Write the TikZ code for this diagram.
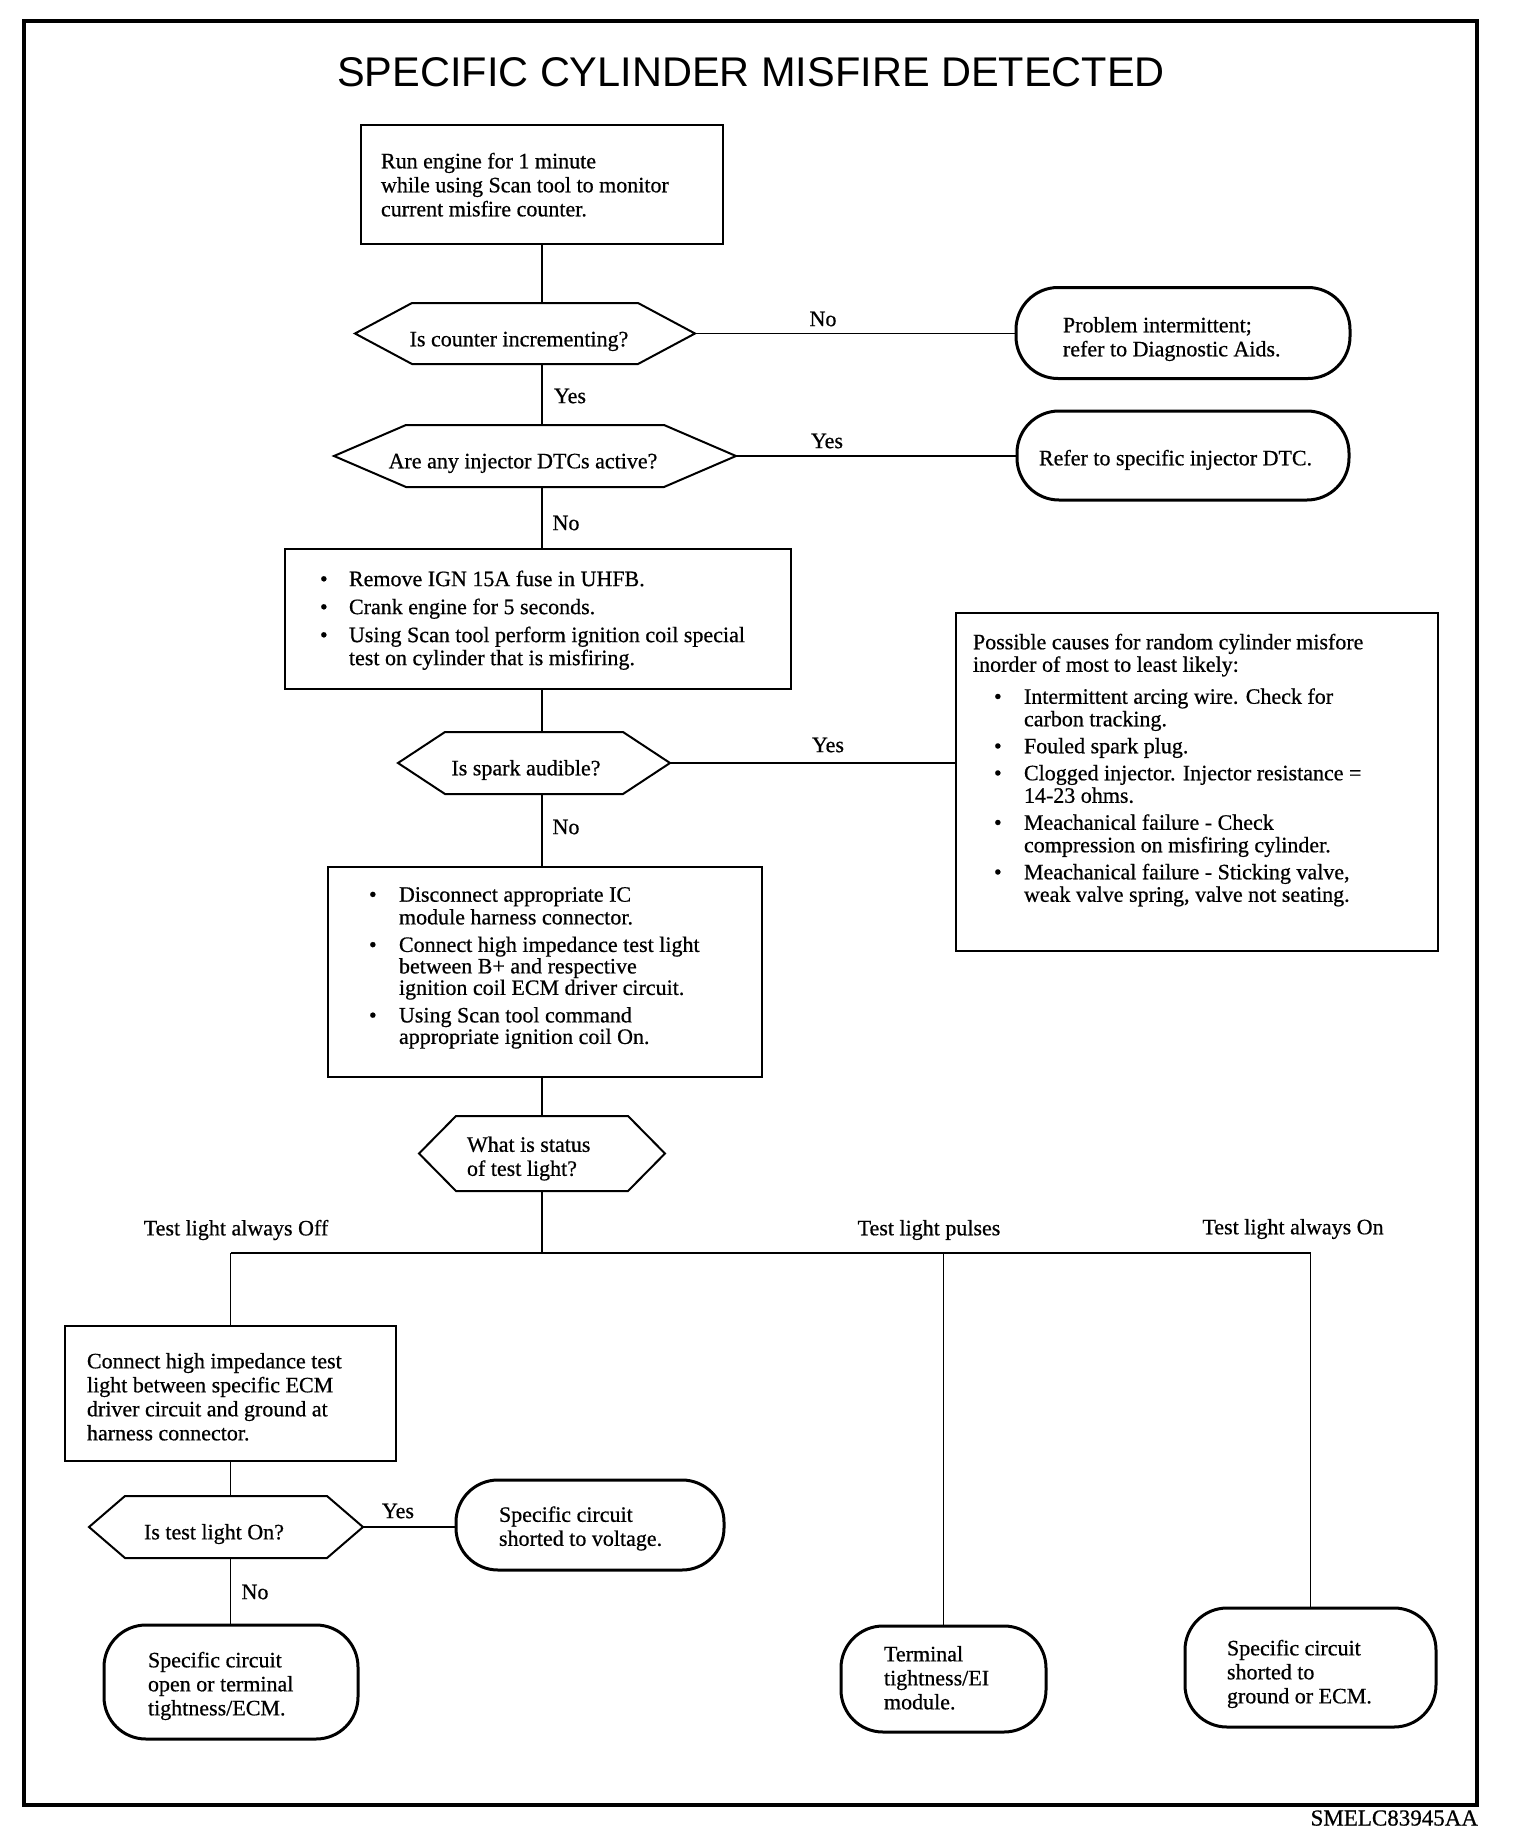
\documentclass[tikz,border=0pt]{standalone}
\usepackage{fontspec}
\setmainfont[FakeBold=0.6]{Liberation Serif}
\newfontfamily\titlefont{Liberation Sans}
\newcommand\hexshape[6]{%
  \node[hexbase, minimum width=2*#4, minimum height=2*#5] (#1) at (#2,#3) {};
  \draw[hexline] (#1.west) -- ([xshift=#6]#1.north west) -- ([xshift=-#6]#1.north east)
    -- (#1.east) -- ([xshift=-#6]#1.south east) -- ([xshift=#6]#1.south west) -- cycle;}
\newcommand\bul[1]{\makebox[#1][l]{\textbullet}}
\newcommand\ind[1]{\makebox[#1]{}}
\begin{document}
\begin{tikzpicture}[x=1pt,y=-1pt,
  every node/.style={inner sep=0pt,outer sep=0pt},
  hexbase/.style={},
  hexline/.style={line width=2pt, line join=miter},
  boxn/.style={draw, line width=1.7pt},
  term/.style={draw, line width=3pt, rounded corners=42pt},
  conn/.style={line width=1.7pt},
  txt/.style={align=left, font=\fontsize{22}{24}\selectfont, yshift=-3.5pt},
  lbl/.style={font=\fontsize{22}{24}\selectfont},
  slbl/.style={font=\fontsize{22}{24}\selectfont, yshift=-3.5pt}]
\fill[white] (0,0) rectangle (1520,1846);
\useasboundingbox (0,0) rectangle (1520,1846);
\draw[line width=3.5pt] (24,21) rectangle (1477,1805);

\node[font=\titlefont\fontsize{41.5}{46}\selectfont] (title) at (751,72) {SPECIFIC CYLINDER MISFIRE DETECTED};

% box 1
\node[boxn, minimum width=362, minimum height=119] (b1) at (542,184.5) {};
\node[txt, anchor=west] (b1t) at (381,184) {\strut Run engine for 1 minute\\while using Scan tool to monitor\\current misfire counter.\strut};

% hex 1
\hexshape{h1}{525}{333.5}{170}{30.5}{57}
\node[slbl] (h1t) at (519,338) {\strut Is counter incrementing?};
\node[term, minimum width=334, minimum height=91] (t1) at (1183,333) {};
\node[txt, anchor=west] (t1t) at (1063,336) {\strut Problem intermittent;\\refer to Diagnostic Aids.\strut};
\draw[conn] (h1.east) -- (h1.east -| t1.west);
\node[lbl] (l1) at (823,319) {No};
\draw[conn] (b1.south) -- (b1.south |- h1.north);

% hex 2
\hexshape{h2}{535}{456}{201}{31}{72}
\node[slbl] (h2t) at (523,460) {\strut Are any injector DTCs active?};
\node[term, minimum width=332, minimum height=89] (t2) at (1183,455.5) {};
\node[slbl, anchor=west] (t2t) at (1039,457) {\strut Refer to specific injector DTC.};
\draw[conn] (h2.east) -- (h2.east -| t2.west);
\node[lbl] (l3) at (827,441) {Yes};
\draw[conn] (b1.south |- h1.south) -- (b1.south |- h2.north);
\node[lbl] (l2) at (570,396) {Yes};

% box 2
\node[boxn, minimum width=506, minimum height=140] (b2) at (538,619) {};
\node[txt, font=\fontsize{22}{23}\selectfont, anchor=west] (b2t) at (320,617.5) {\strut\bul{29pt}Remove IGN 15A fuse in UHFB.\\[5pt]\bul{29pt}Crank engine for 5 seconds.\\[5pt]\bul{29pt}Using Scan tool perform ignition coil special\\\ind{29pt}test on cylinder that is misfiring.\strut};
\draw[conn] (b1.south |- h2.south) -- (b1.south |- b2.north);
\node[lbl] (l4) at (566,523) {No};

% hex 3
\hexshape{h3}{534}{763}{136}{31}{47}
\node[slbl] (h3t) at (526,767) {\strut Is spark audible?};
\draw[conn] (b1.south |- b2.south) -- (b1.south |- h3.north);

% box 3
\node[boxn, minimum width=482, minimum height=338] (b3) at (1197,782) {};
\node[txt, font=\fontsize{22}{22.5}\selectfont, anchor=west] (b3t) at (973,767.5) {\strut Possible causes for random cylinder misfore\\inorder of most to least likely:\\[9.5pt]\ind{21pt}\bul{30pt}Intermittent arcing wire. Check for\\\ind{51pt}carbon tracking.\\[4.5pt]\ind{21pt}\bul{30pt}Fouled spark plug.\\[4.5pt]\ind{21pt}\bul{30pt}Clogged injector. Injector resistance =\\\ind{51pt}14-23 ohms.\\[4.5pt]\ind{21pt}\bul{30pt}Meachanical failure - Check\\\ind{51pt}compression on misfiring cylinder.\\[4.5pt]\ind{21pt}\bul{30pt}Meachanical failure - Sticking valve,\\\ind{51pt}weak valve spring, valve not seating.\strut};
\draw[conn] (h3.east) -- (h3.east -| b3.west);
\node[lbl] (l5) at (828,745) {Yes};

% box 4
\node[boxn, minimum width=434, minimum height=210] (b4) at (545,972) {};
\node[txt, font=\fontsize{22}{21.5}\selectfont, anchor=west] (b4t) at (369,965) {\strut\bul{30pt}Disconnect appropriate IC\\\ind{30pt}module harness connector.\\[6pt]\bul{30pt}Connect high impedance test light\\\ind{30pt}between B+ and respective\\\ind{30pt}ignition coil ECM driver circuit.\\[6pt]\bul{30pt}Using Scan tool command\\\ind{30pt}appropriate ignition coil On.\strut};
\draw[conn] (b1.south |- h3.south) -- (b1.south |- b4.north);
\node[lbl] (l6) at (566,827) {No};

% hex 4
\hexshape{h4}{542}{1153.5}{123}{37.5}{37}
\node[txt, anchor=west] (h4t) at (467,1155.5) {\strut What is status\\of test light?\strut};
\draw[conn] (b1.south |- b4.south) -- (b1.south |- h4.north);
\coordinate (bus) at (541,1253);
\draw[conn] (b1.south |- h4.south) -- (b1.south |- bus);

% box 5 and bottom terminals
\node[boxn, minimum width=331, minimum height=135] (b5) at (230.5,1393.5) {};
\node[txt, anchor=west] (b5t) at (87,1396) {\strut Connect high impedance test\\light between specific ECM\\driver circuit and ground at\\harness connector.\strut};
\node[term, minimum width=205, minimum height=106] (t7) at (943.5,1679) {};
\node[txt, anchor=west] (t7t) at (884,1677) {\strut Terminal\\tightness/EI\\module.\strut};
\node[term, minimum width=251, minimum height=119] (t8) at (1310.5,1667.5) {};
\node[txt, anchor=west] (t8t) at (1227,1671) {\strut Specific circuit\\shorted to\\ground or ECM.\strut};
\draw[conn] (b5.north |- bus) -- (t8.north |- bus);
\draw[conn] (b5.north |- bus) -- (b5.north);
\draw[conn] (t7.north |- bus) -- (t7.north);
\draw[conn] (t8.north |- bus) -- (t8.north);
\node[lbl] (l7) at (236,1230) {Test light always Off};
\node[lbl] (l8) at (929,1230) {Test light pulses};
\node[lbl] (l9) at (1293,1229) {Test light always On};

% hex 5
\hexshape{h5}{226}{1527}{137}{31}{36}
\node[slbl] (h5t) at (214,1531) {\strut Is test light On?};
\draw[conn] (b5.south) -- (b5.south |- h5.north);
\node[term, minimum width=268, minimum height=90] (t5) at (590,1525) {};
\node[txt, anchor=west] (t5t) at (499,1525.5) {\strut Specific circuit\\shorted to voltage.\strut};
\draw[conn] (h5.east) -- (h5.east -| t5.west);
\node[lbl] (l10) at (398,1511) {Yes};
\node[term, minimum width=254, minimum height=114] (t6) at (231,1682) {};
\node[txt, anchor=west] (t6t) at (148,1683) {\strut Specific circuit\\open or terminal\\tightness/ECM.\strut};
\draw[conn] (b5.south |- h5.south) -- (b5.south |- t6.north);
\node[lbl] (l11) at (255,1592) {No};

\node[font=\fontsize{23}{26}\selectfont, anchor=east] (code) at (1478,1818) {SMELC83945AA};
\end{tikzpicture}
\end{document}
